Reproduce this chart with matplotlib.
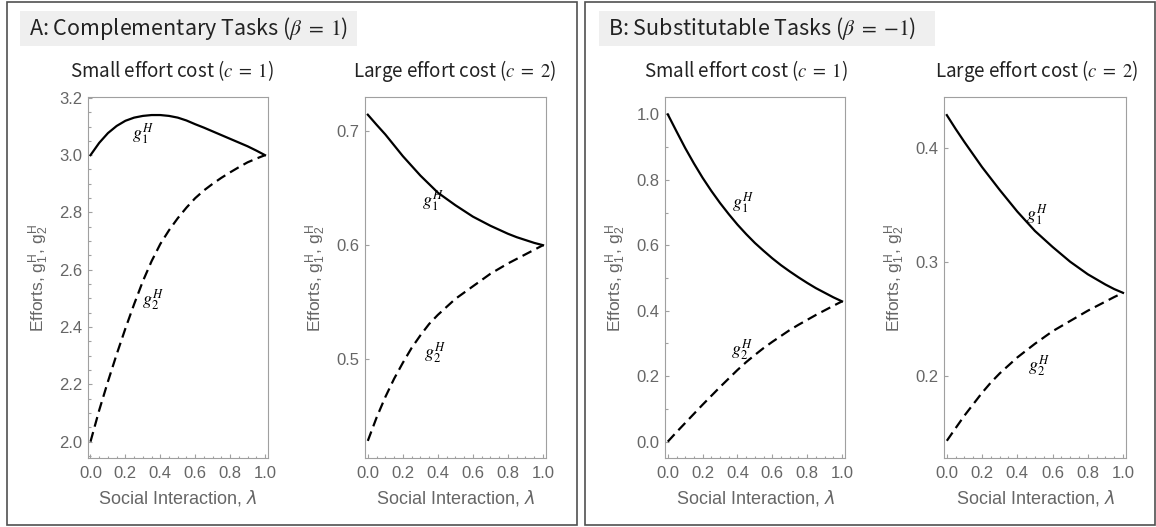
import matplotlib
matplotlib.use("Agg")
import matplotlib.pyplot as plt
from matplotlib.patches import Rectangle
from matplotlib.ticker import MultipleLocator, FormatStrFormatter

# social interaction grid (lambda)
lam = [0.00, 0.05, 0.10, 0.15, 0.20, 0.25, 0.30, 0.35, 0.40, 0.45, 0.50,
       0.55, 0.60, 0.65, 0.70, 0.75, 0.80, 0.85, 0.90, 0.95, 1.00]

# A: complementary tasks, c = 1
a_small_g1 = [3.000, 3.043, 3.077, 3.102, 3.120, 3.131, 3.137, 3.140, 3.140, 3.137, 3.131,
              3.121, 3.108, 3.096, 3.083, 3.070, 3.057, 3.044, 3.031, 3.016, 3.000]
a_small_g2 = [2.000, 2.110, 2.210, 2.305, 2.395, 2.480, 2.560, 2.630, 2.690, 2.738, 2.780,
              2.817, 2.850, 2.877, 2.900, 2.921, 2.940, 2.958, 2.975, 2.988, 3.000]
# A: complementary tasks, c = 2
a_large_g1 = [0.7143, 0.7055, 0.6970, 0.6875, 0.6780, 0.6695, 0.6610, 0.6535, 0.6460, 0.6405, 0.6350,
              0.6300, 0.6250, 0.6210, 0.6170, 0.6135, 0.6100, 0.6070, 0.6045, 0.6020, 0.6000]
a_large_g2 = [0.4286, 0.4490, 0.4670, 0.4830, 0.4970, 0.5100, 0.5210, 0.5310, 0.5390, 0.5460, 0.5530,
              0.5585, 0.5640, 0.5695, 0.5750, 0.5795, 0.5840, 0.5880, 0.5920, 0.5960, 0.6000]
# B: substitutable tasks, c = 1
b_small_g1 = [1.000, 0.948, 0.897, 0.850, 0.806, 0.766, 0.729, 0.695, 0.663, 0.634, 0.607,
              0.583, 0.560, 0.539, 0.520, 0.502, 0.485, 0.469, 0.455, 0.441, 0.4286]
b_small_g2 = [0.000, 0.029, 0.057, 0.085, 0.113, 0.140, 0.167, 0.193, 0.219, 0.243, 0.265,
              0.286, 0.305, 0.323, 0.341, 0.357, 0.372, 0.387, 0.401, 0.415, 0.4286]
# B: substitutable tasks, c = 2
b_large_g1 = [0.4286, 0.4165, 0.4050, 0.3940, 0.3830, 0.3730, 0.3630, 0.3535, 0.3440, 0.3355, 0.3270,
              0.3200, 0.3130, 0.3065, 0.3000, 0.2945, 0.2890, 0.2845, 0.2800, 0.2760, 0.2727]
b_large_g2 = [0.1429, 0.1540, 0.1650, 0.1750, 0.1850, 0.1940, 0.2020, 0.2090, 0.2160, 0.2220, 0.2280,
              0.2335, 0.2390, 0.2435, 0.2480, 0.2525, 0.2570, 0.2610, 0.2650, 0.2690, 0.2727]

W, H = 1156, 527
plt.rcParams['mathtext.fontset'] = 'stix'
plt.rcParams['font.family'] = ['Liberation Sans', 'DejaVu Sans']

FRAME = '#a0a0a0'
TICKTXT = '#666666'
HEAD = ['Noto Sans CJK JP', 'DejaVu Sans']

fig = plt.figure(figsize=(W / 100, H / 100), dpi=100)


def fx(x):
    return x / W


def fy(y):
    return 1 - y / H


def panel(left, right, g1, g2, ylim, ymajor, yminor, pos1, pos2):
    ax = fig.add_axes([fx(left), fy(458), fx(right) - fx(left), fy(97) - fy(458)])
    ax.plot(lam, g1, color='black', lw=1.6)
    ax.plot(lam, g2, color='black', lw=1.6, dashes=(4.5, 2.5))
    ax.set_xlim(-0.016, 1.017)
    ax.set_ylim(*ylim)
    ax.xaxis.set_major_locator(MultipleLocator(0.2))
    ax.xaxis.set_minor_locator(MultipleLocator(0.05))
    ax.yaxis.set_major_locator(MultipleLocator(ymajor))
    if yminor:
        ax.yaxis.set_minor_locator(MultipleLocator(yminor))
    ax.xaxis.set_major_formatter(FormatStrFormatter('%.1f'))
    ax.yaxis.set_major_formatter(FormatStrFormatter('%.1f'))
    for s in ax.spines.values():
        s.set_color(FRAME)
        s.set_linewidth(0.8)
    ax.tick_params(which='both', direction='in', color=FRAME, width=0.8,
                   labelcolor=TICKTXT, labelsize=12, top=False, right=False)
    ax.tick_params(which='major', length=3.2)
    ax.tick_params(which='minor', length=1.8)
    ax.tick_params(axis='x', pad=6)
    ax.tick_params(axis='y', pad=4)
    ax.set_xlabel(r'Social Interaction, $\lambda$', color=TICKTXT, fontsize=13,
                  labelpad=5, math_fontfamily='dejavusans')
    ax.set_ylabel(r'Efforts, $\mathregular{g_1^H}$, $\mathregular{g_2^H}$',
                  color=TICKTXT, fontsize=12.5, labelpad=6)
    ax.text(*pos1, r'$g_1^H$', fontsize=13, ha='center', va='center')
    ax.text(*pos2, r'$g_2^H$', fontsize=13, ha='center', va='center')
    return ax


panel(87.7, 268, a_small_g1, a_small_g2, (1.943, 3.203), 0.2, 0.05,
      (0.30, 3.074), (0.36, 2.496))
panel(365, 546, a_large_g1, a_large_g2, (0.4136, 0.7298), 0.1, None,
      (0.372, 0.639), (0.382, 0.506))
panel(665, 845, b_small_g1, b_small_g2, (-0.05, 1.053), 0.2, 0.1,
      (0.431, 0.731), (0.427, 0.28))
panel(944, 1126, b_large_g1, b_large_g2, (0.1278, 0.4445), 0.1, None,
      (0.51, 0.341), (0.52, 0.209))

# outer panel frames
for x0, x1 in [(6.7, 576.7), (585, 1155)]:
    fig.add_artist(Rectangle((fx(x0), fy(525)), fx(x1) - fx(x0), fy(2) - fy(525),
                             transform=fig.transFigure, fill=False,
                             ec='#505050', lw=1.2))

# panel headings
for x0, x1, txt in [(20.4, 357, r'A: Complementary Tasks ($\beta\;=\;1$)'),
                    (599, 935, r'B: Substitutable Tasks ($\beta\;=\;{-1}$)')]:
    fig.add_artist(Rectangle((fx(x0), fy(45.5)), fx(x1) - fx(x0), fy(11) - fy(45.5),
                             transform=fig.transFigure, fc='#efefef', ec='none'))
    fig.text(fx(x0 + 9), fy(28), txt, family=HEAD, fontsize=15.5,
             ha='left', va='center', color='#222222')

for xc, txt in [(172, r'Small effort cost ($c\;=\;1$)'),
                (455, r'Large effort cost ($c\;=\;2$)'),
                (746, r'Small effort cost ($c\;=\;1$)'),
                (1037, r'Large effort cost ($c\;=\;2$)')]:
    fig.text(fx(xc), fy(71), txt, family=HEAD, fontsize=13.5,
             ha='center', va='center', color='#222222')

fig.savefig('out.png', dpi=100)
